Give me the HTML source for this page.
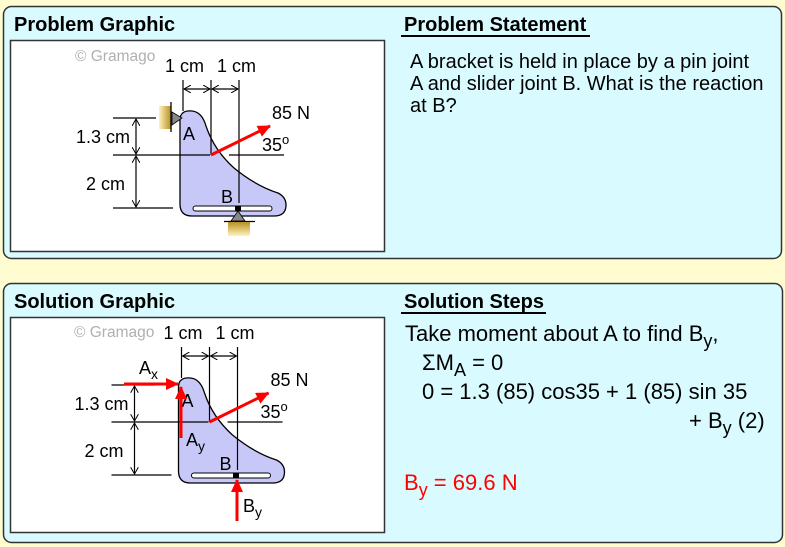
<!DOCTYPE html>
<html><head><style>
html,body{margin:0;padding:0;background:#fffcd2;}
svg{display:block;font-family:"Liberation Sans",Arial,sans-serif;}
</style></head><body>
<svg width="785" height="547" viewBox="0 0 785 547" xmlns="http://www.w3.org/2000/svg">
<defs>
<linearGradient id="wallA" x1="0" x2="1" y1="0" y2="0"><stop offset="0" stop-color="#fff4c0"/><stop offset="1" stop-color="#b8901e"/></linearGradient>
<linearGradient id="wallB" x1="0" x2="0" y1="0" y2="1"><stop offset="0" stop-color="#b8901e"/><stop offset="1" stop-color="#fff4c0"/></linearGradient>
<marker id="ar" markerWidth="8" markerHeight="8" refX="7" refY="4" orient="auto" markerUnits="userSpaceOnUse"><path d="M0,0 L7,4 L0,8" fill="none" stroke="#000" stroke-width="1"/></marker>
<marker id="al" markerWidth="8" markerHeight="8" refX="1" refY="4" orient="auto" markerUnits="userSpaceOnUse"><path d="M8,0 L1,4 L8,8" fill="none" stroke="#000" stroke-width="1"/></marker>
<marker id="red" markerWidth="14" markerHeight="12" refX="12" refY="6" orient="auto" markerUnits="userSpaceOnUse"><path d="M0,0 L13,6 L0,12 Z" fill="#f00"/></marker>
<g id="common">
  <path d="M180,120 Q180,110 192,111 Q202,112 206,126 Q214,150 234,168 Q256,186 278,193 Q286,197 286,205 Q286,216 274,216 L192,216 Q180,216 180,204 Z" fill="#c8c8f8" stroke="#000" stroke-width="1.3"/>
  <rect x="193" y="206" width="79" height="5" rx="2.5" fill="#fff" stroke="#000" stroke-width="1"/>
  <g stroke="#000" stroke-width="1.2" fill="none">
    <line x1="183" y1="80" x2="183" y2="111"/>
    <line x1="211" y1="80" x2="211" y2="155"/>
    <line x1="239" y1="80" x2="239" y2="203"/>
    <line x1="184" y1="89" x2="210" y2="89" marker-start="url(#al)" marker-end="url(#ar)"/>
    <line x1="212" y1="89" x2="238" y2="89" marker-start="url(#al)" marker-end="url(#ar)"/>
    <line x1="113" y1="118" x2="156" y2="118"/>
    <line x1="113" y1="155" x2="210" y2="155"/>
    <line x1="229" y1="155" x2="284" y2="155"/>
    <line x1="113" y1="208" x2="173" y2="208"/>
    <line x1="136" y1="119" x2="136" y2="154" marker-start="url(#al)" marker-end="url(#ar)"/>
    <line x1="136" y1="156" x2="136" y2="207" marker-start="url(#al)" marker-end="url(#ar)"/>
  </g>
  <line x1="211" y1="155" x2="270" y2="126" stroke="#f00" stroke-width="3" marker-end="url(#red)"/>
  <g font-size="18" fill="#000">
    <text x="165" y="72">1 cm</text>
    <text x="217" y="72">1 cm</text>
    <text x="76" y="143">1.3 cm</text>
    <text x="86" y="190">2 cm</text>
    <text x="183" y="140">A</text>
    <text x="221" y="203">B</text>
    <text x="272" y="119">85 N</text>
    <text x="262" y="151">35<tspan font-size="13" dy="-7">o</tspan></text>
  </g>
</g>
</defs>

<!-- Panel 1 -->
<rect x="3.5" y="6.5" width="778" height="252" rx="8" fill="#d9fbff" stroke="#333" stroke-width="1.5"/>
<text x="14" y="31" font-size="20" font-weight="bold">Problem Graphic</text>
<rect x="10.5" y="40.5" width="374" height="211" fill="#fff" stroke="#333" stroke-width="1.5"/>
<text x="75" y="61" font-size="15.5" fill="#b0b0b0">© Gramago</text>
<use href="#common"/>
<rect x="159" y="106" width="12" height="23" fill="url(#wallA)"/>
<line x1="171" y1="102" x2="171" y2="132" stroke="#000" stroke-width="1.3"/>
<path d="M172,112 L182,118 L172,125 Z" fill="#888" stroke="#000" stroke-width="0.8"/>
<rect x="235" y="206" width="6" height="5" fill="#000"/>
<path d="M238,211 L231,221 L245,221 Z" fill="#888" stroke="#000" stroke-width="0.8"/>
<line x1="224" y1="221.5" x2="255" y2="221.5" stroke="#000" stroke-width="1.2"/>
<rect x="228" y="222" width="22" height="14" fill="url(#wallB)"/>

<text x="404" y="31" font-size="20" font-weight="bold">Problem Statement</text>
<line x1="401" y1="36" x2="590" y2="36" stroke="#000" stroke-width="2"/>
<g font-size="20">
<text x="410" y="68">A bracket is held in place by a pin joint</text>
<text x="410" y="90">A and slider joint B. What is the reaction</text>
<text x="410" y="112">at B?</text>
</g>

<!-- Panel 2 -->
<rect x="3.5" y="283.5" width="779" height="259" rx="8" fill="#d9fbff" stroke="#333" stroke-width="1.5"/>
<text x="14" y="308" font-size="20" font-weight="bold">Solution Graphic</text>
<rect x="10.5" y="317.5" width="374" height="215" fill="#fff" stroke="#333" stroke-width="1.5"/>
<text x="74" y="337" font-size="15.5" fill="#b0b0b0">© Gramago</text>
<use href="#common" transform="translate(-1.5,267)"/>
<rect x="233" y="473" width="6" height="5" fill="#000"/>
<line x1="124" y1="384" x2="178" y2="384" stroke="#f00" stroke-width="3" marker-end="url(#red)"/>
<line x1="181" y1="438" x2="181" y2="387" stroke="#f00" stroke-width="3" marker-end="url(#red)"/>
<line x1="237" y1="521" x2="237" y2="480" stroke="#f00" stroke-width="3" marker-end="url(#red)"/>
<g font-size="18">
<text x="139" y="374">A<tspan font-size="14" dy="5">x</tspan></text>
<text x="186" y="446">A<tspan font-size="14" dy="5">y</tspan></text>
<text x="243" y="512">B<tspan font-size="14" dy="5">y</tspan></text>
</g>

<text x="404" y="308" font-size="20" font-weight="bold">Solution Steps</text>
<line x1="401" y1="313" x2="546" y2="313" stroke="#000" stroke-width="2"/>
<g font-size="22">
<text x="405" y="341">Take moment about A to find B<tspan font-size="18" dy="6">y</tspan><tspan dy="-6">,</tspan></text>
<text x="422" y="370">ΣM<tspan font-size="18" dy="6">A</tspan><tspan dy="-6"> = 0</tspan></text>
<text x="422" y="399">0 = 1.3 (85) cos35 + 1 (85) sin 35</text>
<text x="689" y="428">+ B<tspan font-size="18" dy="6">y</tspan><tspan dy="-6"> (2)</tspan></text>
<text x="404" y="490" fill="#f00">B<tspan font-size="18" dy="6">y</tspan><tspan dy="-6"> = 69.6 N</tspan></text>
</g>
</svg>
</body></html>
